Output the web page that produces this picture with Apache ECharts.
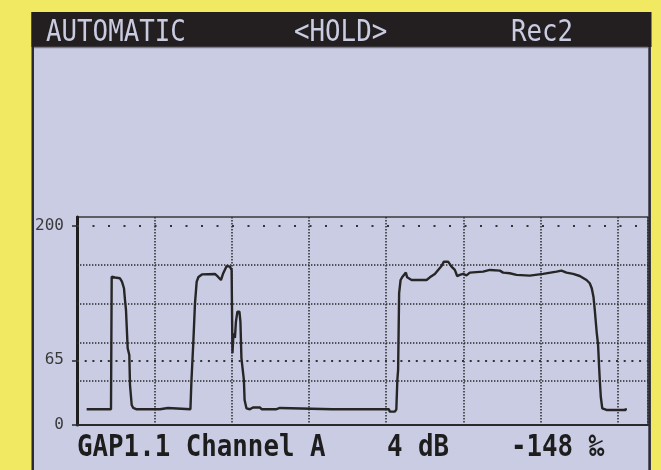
<!DOCTYPE html>
<html>
<head>
<meta charset="utf-8">
<script src="https://cdn.jsdelivr.net/npm/echarts@6/dist/echarts.min.js"></script>
<style>html,body{margin:0;padding:0;background:#F1E961;}#c{width:661px;height:470px;}</style>
</head>
<body>
<div id="c"></div>
<script>
// Trace samples (x in tenths of a horizontal division, y in display units)
const traceX = [1.25,2.33,2.55,2.78,4.40,4.49,4.92,5.56,5.82,6.08,
  6.21,6.34,6.56,6.77,6.86,7.08,7.28,7.72,10.74,10.87,
  11.77,11.90,14.68,14.81,15.05,15.27,15.49,15.72,16.17,17.85,
  18.24,18.63,18.93,19.37,19.79,20.01,20.12,20.25,20.44,20.57,
  20.76,21.02,21.15,21.28,21.47,21.60,21.69,21.93,22.38,22.77,
  23.67,23.93,25.74,25.87,26.26,26.39,33.05,33.16,33.31,35.45,
  35.58,35.71,40.36,40.49,41.14,41.33,41.46,41.56,41.69,41.88,
  42.13,42.56,42.73,43.30,45.24,45.67,46.31,46.74,47.18,47.48,
  48.03,48.47,48.90,49.20,49.55,49.97,50.41,50.84,52.56,53.43,
  54.72,55.15,56.01,56.88,58.60,60.32,62.06,62.70,63.35,64.21,
  65.07,65.94,66.36,66.62,66.84,67.01,67.27,67.44,67.57,67.66,
  67.79,67.98,68.53,71.02,71.02];
const traceY = [15.8,15.8,17.6,15.8,15.8,149,148.2,147.4,144,137.4,
  125.6,115.6,77.1,70.4,40.2,20.1,17.1,15.8,15.8,17.1,
  17.1,15.8,15.8,44.2,82.4,122.3,144,148.7,151.3,151.8,
  149,145.7,152.5,159.8,159.1,155.8,72.1,92.2,87.4,103.8,
  113.9,113.9,103.8,67.3,66.3,45.2,25.1,16.8,15.8,17.6,
  17.6,15.8,15.8,17.1,17.1,15.8,15.8,17.1,15.8,15.8,
  17.1,15.8,15.8,13.4,13.4,15.8,45.2,55.3,132.4,145.7,
  149,153.1,148.4,145.7,145.7,148.4,151.8,155.8,159.8,164.1,
  164.1,159.1,155.8,149.7,150.8,151.8,150.4,153.1,154.1,155.8,
  155.1,153.1,152.5,150.8,150.1,151.8,154.1,155.1,153.1,151.8,
  149.7,145.7,142.4,137.4,128.9,115.6,92.2,80.4,58.6,45.2,
  28.4,16.8,15.1,15.1,16.8];
const yTickValues = [0, 65, 200];
const denseGridY = [44, 83, 122, 161];
const sparseGridY = [200];
const mediumGridY = [65];
const headerTexts = [["AUTOMATIC", 0], ["<HOLD>", 16], ["Rec2", 30]];
const footerTexts = [["GAP1.1 Channel A", 0], ["4 dB", 20], ["-148 ‰", 28]];

const X_MAX = 73.9, Y_MAX = 209;
const lavender = '#CACCE4', ink = '#262626';
const pitch = 15.5;

const chart = echarts.init(document.getElementById('c'), null, {renderer: 'canvas'});

const graphics = [
  {type: 'rect', z: -20, shape: {x: 32, y: 12, width: 619, height: 470}, style: {fill: lavender}},
  {type: 'rect', z: -19, shape: {x: 31.5, y: 12, width: 2.5, height: 470}, style: {fill: '#2b2b33'}},
  {type: 'rect', z: -19, shape: {x: 648.3, y: 12, width: 2.6, height: 470}, style: {fill: '#2b2b33'}},
  {type: 'rect', z: -18, shape: {x: 31.5, y: 12, width: 620, height: 35}, style: {fill: '#231F20'}},
  {type: 'rect', z: -18, shape: {x: 34, y: 46.7, width: 614, height: 1.6}, style: {fill: '#7d7e8c'}}
];
headerTexts.forEach(function (t) {
  graphics.push({type: 'text', z: 10, x: 46 + t[1] * pitch, y: 33, scaleX: 0.86,
    style: {text: t[0], fill: '#C9CBE1', font: '30px "DejaVu Sans Mono"', verticalAlign: 'middle', align: 'left'}});
});
footerTexts.forEach(function (t) {
  graphics.push({type: 'text', z: 10, x: 77 + t[1] * pitch, y: 448.5, scaleX: 0.86,
    style: {text: t[0], fill: '#1d1d1d', font: 'bold 30px "DejaVu Sans Mono"', verticalAlign: 'middle', align: 'left'}});
});

const points = traceX.map(function (x, i) { return [x, traceY[i]]; });

const markData = [];
denseGridY.forEach(function (v) {
  markData.push({yAxis: v, lineStyle: {type: [1.4, 1.6], width: 1.5, color: '#2a2a2a'}});
});
sparseGridY.forEach(function (v) {
  markData.push({yAxis: v, lineStyle: {type: [2, 13.5], width: 2, color: '#333'}});
});
mediumGridY.forEach(function (v) {
  markData.push({yAxis: v, lineStyle: {type: [2, 5.7], width: 2, color: '#333'}});
});

chart.setOption({
  backgroundColor: '#F1E961',
  animation: false,
  graphic: graphics,
  grid: {left: 77, top: 217, width: 571, height: 208, show: true, borderColor: '#3a3a3a', borderWidth: 1.5, backgroundColor: 'transparent'},
  xAxis: {
    type: 'value', min: 0, max: X_MAX, interval: 10,
    axisLine: {show: true, onZero: false, lineStyle: {color: '#2a2a2a', width: 2}},
    axisTick: {show: false}, axisLabel: {show: false},
    splitLine: {show: true, lineStyle: {type: [1.4, 1.6], width: 1.5, color: '#2a2a2a'}}
  },
  yAxis: {
    type: 'value', min: 0, max: Y_MAX,
    axisLine: {show: true, lineStyle: {color: '#1e1e1e', width: 3}},
    axisTick: {show: true, customValues: yTickValues, length: 5, lineStyle: {color: '#2a2a2a', width: 1.5}},
    axisLabel: {show: true, customValues: yTickValues, margin: 13, color: '#3a3a3a',
      fontFamily: 'DejaVu Sans Mono', fontSize: 16},
    splitLine: {show: false}
  },
  series: [
    {type: 'line', z: 1, silent: true, data: points, symbol: 'none',
      lineStyle: {opacity: 0, width: 0},
      markLine: {silent: true, symbol: ['none', 'none'], label: {show: false}, animation: false, data: markData}},
    {type: 'line', z: 3, data: points, symbol: 'none', showSymbol: false,
      lineStyle: {color: ink, width: 2.4}}
  ]
});
</script>
</body>
</html>
